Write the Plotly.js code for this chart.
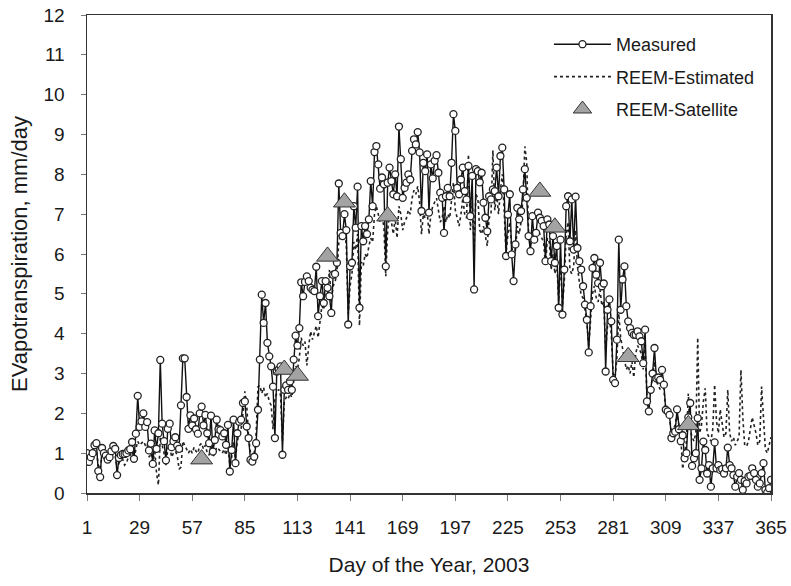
<!DOCTYPE html>
<html>
<head>
<meta charset="utf-8">
<script src="https://cdn.plot.ly/plotly-3.0.1.min.js"></script>
<style>
  html, body { margin: 0; padding: 0; background: #fff; }
  #chart { width: 791px; height: 586px; }
</style>
</head>
<body>
<div id="chart"></div>
<script>
// Tick labels on the day axis
const dayTicks = [1, 29, 57, 85, 113, 141, 169, 197, 225, 253, 281, 309, 337, 365];

// Measured ET, mm/day, day 1..365
const measured = [
  1.0, 0.78, 0.9, 1.0, 1.2, 1.25, 0.55, 0.4, 1.13, 1.0,
  0.94, 0.84, 0.9, 1.05, 1.18, 1.11, 0.45, 0.88, 0.95, 0.98,
  0.98, 1.0, 1.07, 1.1, 1.28, 0.86, 1.49, 2.44, 1.66, 1.8,
  2.0, 1.66, 1.78, 1.07, 1.24, 0.73, 1.57, 1.11, 1.5, 3.34,
  1.74, 1.3, 0.82, 1.61, 1.74, 1.15, 1.3, 1.4, 1.19, 1.11,
  2.2, 3.38, 3.38, 2.41, 1.61, 1.95, 1.7, 1.87, 1.6, 1.49,
  2.0, 2.17, 1.7, 1.96, 1.5, 1.25, 1.94, 1.04, 1.33, 1.84,
  1.6, 1.58, 1.42, 1.5, 1.21, 1.71, 0.54, 1.08, 1.84, 0.75,
  1.5, 1.79, 1.84, 2.26, 2.3, 1.67, 1.38, 0.83, 0.79, 0.91,
  1.25, 2.09, 3.35, 4.98, 4.27, 4.77, 3.77, 3.43, 3.18, 2.67,
  1.38, 3.05, 3.1, 3.18, 0.96, 2.59, 2.7, 2.59, 2.8, 2.59,
  3.35, 3.95, 3.7, 4.14, 5.29, 4.94, 5.3, 5.44, 5.32, 5.15,
  5.1, 5.07, 5.68, 4.44, 4.94, 5.32, 4.77, 5.32, 5.15, 4.94,
  4.52, 5.48, 5.5, 5.78, 7.77, 6.53, 6.45, 7.0, 6.6, 4.23,
  5.69, 5.78, 7.2, 6.66, 7.69, 4.65, 6.7, 6.32, 6.7, 6.5,
  6.87, 7.83, 7.2, 8.56, 8.71, 8.25, 7.64, 7.92, 7.75, 5.69,
  7.79, 8.17, 7.83, 7.5, 8.0, 7.45, 9.2, 8.38, 7.41, 7.66,
  7.79, 8.0, 7.87, 8.59, 8.88, 8.75, 9.06, 8.55, 7.08, 8.29,
  8.08, 8.5, 7.04, 8.25, 7.9, 8.34, 8.48, 8.04, 7.54, 7.41,
  6.53, 7.45, 7.66, 7.45, 8.29, 9.51, 9.09, 7.66, 7.5, 7.87,
  8.17, 7.58, 7.37, 8.21, 6.95, 7.96, 5.11, 8.13, 8.08, 7.8,
  8.04, 7.29, 6.91, 6.57, 7.45, 7.37, 7.62, 7.58, 8.17, 7.45,
  8.46, 8.67, 7.62, 5.95, 6.99, 7.5, 5.99, 5.32, 6.24, 7.16,
  6.87, 7.08, 7.62, 8.13, 7.41, 6.45, 6.07, 6.95, 6.36, 6.53,
  7.04, 6.91, 6.83, 6.7, 5.82, 6.87, 6.74, 5.82, 6.45, 5.78,
  6.2, 4.65, 6.36, 4.48, 5.61, 7.2, 7.45, 6.32, 7.37, 6.11,
  7.44, 6.15, 5.82, 5.61, 5.19, 4.73, 4.35, 3.53, 4.69, 5.65,
  5.9, 5.48, 5.27, 5.78, 5.19, 5.26, 3.05, 4.6, 4.86, 4.31,
  2.84, 2.76, 3.85, 6.36, 4.6, 5.36, 5.69, 4.69, 4.31, 4.14,
  4.02, 3.97, 3.97, 4.06, 3.93, 3.81, 3.26, 4.1, 2.3, 2.05,
  2.59, 3.0, 3.64, 2.88, 2.9, 2.84, 3.09, 2.72, 2.09, 2.05,
  1.96, 1.38, 1.5, 1.54, 2.1, 1.6, 1.3, 1.45, 0.87, 1.0,
  1.9, 2.26, 0.68, 0.87, 1.0, 1.88, 0.33, 0.62, 1.29, 1.08,
  0.49, 0.7, 0.16, 0.62, 1.27, 0.62, 0.7, 0.58, 0.6, 0.49,
  0.62, 1.14, 0.7, 0.62, 0.45, 0.16, 0.41, 0.5, 0.33, 0.08,
  0.3, 0.24, 0.41, 0.43, 0.62, 0.5, 0.33, 0.16, 0.24, 0.5,
  0.75, 0.08, 0.01, 0.12, 0.33
];

// REEM-Estimated ET, mm/day, day 1..365
const estimated = [
  0.9, 0.8, 0.85, 0.95, 1.0, 1.05, 0.7, 0.6, 0.95, 0.9,
  0.85, 0.8, 0.8, 0.95, 1.0, 0.95, 0.6, 0.75, 0.8, 0.85,
  0.7, 0.75, 0.9, 0.95, 1.05, 0.8, 1.1, 1.3, 1.2, 1.25,
  1.3, 1.2, 1.25, 0.9, 1.0, 0.7, 1.1, 0.5, 0.2, 1.4,
  1.2, 1.0, 0.7, 1.1, 1.2, 0.9, 1.0, 1.05, 0.95, 0.6,
  0.65, 1.3, 1.2, 1.1, 1.0, 1.1, 1.0, 1.15, 1.05, 1.0,
  1.2, 1.25, 1.1, 1.2, 1.0, 0.95, 1.2, 0.9, 1.0, 1.15,
  1.1, 1.05, 1.0, 1.1, 0.95, 1.2, 0.7, 0.9, 1.3, 0.85,
  1.3, 1.5, 1.6, 2.0, 2.55, 2.2, 1.4, 1.0, 0.9, 1.0,
  1.5, 2.67, 2.7, 2.5, 2.65, 2.4, 2.5, 2.3, 2.2, 1.6,
  2.4, 2.5, 2.6, 2.45, 1.3, 2.3, 2.4, 2.35, 2.5, 2.4,
  2.9, 3.2, 3.1, 3.4, 3.9, 3.7, 3.8, 3.2, 3.7, 4.06,
  3.85, 4.0, 4.2, 3.9, 4.4, 4.7, 4.6, 5.2, 5.0, 5.6,
  4.8, 5.2, 5.3, 5.5, 6.3, 6.5, 6.4, 6.7, 6.2, 4.5,
  5.2, 5.5, 6.3, 6.1, 6.5, 4.2, 5.8, 5.7, 6.0, 5.9,
  6.2, 6.4, 6.3, 7.0, 7.2, 7.0, 6.8, 6.9, 6.7, 5.44,
  6.6, 7.0, 6.8, 6.5, 6.9, 6.4, 7.2, 7.0, 6.6, 6.8,
  6.9, 7.1, 7.0, 7.4, 7.6, 7.5, 7.7, 7.3, 6.5, 7.0,
  6.9, 7.1, 6.5, 7.0, 7.2, 7.3, 7.4, 7.1, 6.8, 6.9,
  7.2, 6.8, 7.0, 6.9, 7.4, 7.8, 7.1, 6.9, 6.7, 7.0,
  7.4, 7.0, 6.9, 8.5, 6.6, 7.3, 6.2, 7.5, 7.4, 6.6,
  6.5, 6.7, 6.4, 6.2, 6.9, 7.0, 8.6, 7.1, 7.5, 7.0,
  7.6, 8.0, 7.1, 6.0, 6.5, 6.8, 6.2, 5.9, 6.1, 6.7,
  6.5, 6.8, 7.4, 8.7, 8.3, 6.5, 6.2, 6.6, 6.3, 6.4,
  6.6, 6.5, 6.4, 6.3, 5.7, 6.4, 6.3, 5.6, 6.0, 5.5,
  5.8, 4.8, 5.9, 4.7, 5.3, 6.5, 6.8, 5.6, 5.5, 5.7,
  6.6, 5.7, 5.3, 4.95, 4.9, 4.6, 4.3, 3.7, 4.4, 5.0,
  5.2, 4.9, 4.8, 5.1, 4.7, 4.8, 3.6, 4.2, 4.4, 4.0,
  3.0, 2.9, 3.4, 4.5, 3.9, 3.6, 3.3, 3.1, 3.2, 3.0,
  3.3, 2.9, 3.5, 3.7, 3.6, 3.5, 3.1, 3.7, 2.4, 2.2,
  2.6, 2.9, 3.3, 2.8, 2.7, 2.6, 2.9, 2.6, 2.1, 2.0,
  1.9, 1.5, 1.6, 1.7, 2.0, 1.7, 1.4, 0.6, 1.0, 1.3,
  2.5, 1.6, 1.4, 1.3, 1.5, 3.9, 1.5, 1.7, 2.3, 2.63,
  1.5, 1.4, 1.3, 1.6, 2.72, 1.8, 1.5, 2.1, 1.7, 1.4,
  1.5, 2.59, 1.5, 1.3, 1.4, 1.2, 1.3, 1.4, 3.09, 1.9,
  1.2, 1.17, 1.3, 1.6, 1.9, 1.7, 1.5, 1.2, 1.3, 2.67,
  1.75, 1.1, 1.0, 1.2, 1.4
];

// REEM-Satellite overpass days and values
const satDays = [62, 106, 113, 129, 138, 161, 242, 250, 289, 321];
const satValues = [0.85, 3.1, 2.95, 5.94, 7.3, 6.95, 7.57, 6.67, 3.42, 1.71];

const days = measured.map((_, i) => i + 1);

const FONT = 'Liberation Sans, Arial, sans-serif';
const INK = '#1a1a1a';

const traces = [
  {
    x: days, y: estimated, type: 'scatter', mode: 'lines',
    name: 'REEM-Estimated', legendrank: 2, legendgroup: 'b',
    line: { color: '#222', width: 1.6, dash: '3px,3px' }
  },
  {
    x: days, y: measured, type: 'scatter', mode: 'lines+markers',
    name: 'Measured', legendrank: 1, legendgroup: 'a',
    line: { color: '#111', width: 1.4 },
    marker: { symbol: 'circle', size: 7, color: '#ffffff', line: { color: '#222', width: 1.3 } }
  },
  {
    x: satDays, y: satValues, type: 'scatter', mode: 'markers',
    name: 'REEM-Satellite', legendrank: 3, legendgroup: 'c',
    marker: { symbol: 'triangle-up', size: 19, color: '#a3a3a3', line: { color: '#333', width: 1 } }
  }
];

const layout = {
  width: 791, height: 586,
  margin: { l: 87, r: 20, t: 15, b: 93 },
  paper_bgcolor: '#fff', plot_bgcolor: '#fff',
  font: { family: FONT, color: INK, size: 19 },
  showlegend: true,
  legend: {
    x: 0.6754, y: 0.977, xanchor: 'left', yanchor: 'top',
    bgcolor: 'rgba(0,0,0,0)', borderwidth: 0,
    font: { family: FONT, size: 18, color: INK },
    tracegroupgap: 6, traceorder: 'grouped', itemwidth: 57
  },
  xaxis: {
    range: [1, 365], tickvals: dayTicks, ticktext: dayTicks.map(String),
    showgrid: false, zeroline: false,
    showline: true, linecolor: '#333', linewidth: 1.5, mirror: true,
    ticks: 'outside', ticklen: 6, tickcolor: '#777', tickwidth: 1,
    ticklabelstandoff: 11,
    tickfont: { family: FONT, size: 19, color: INK },
    title: { text: 'Day of the Year, 2003', font: { family: FONT, size: 21, color: INK }, standoff: 20 }
  },
  yaxis: {
    range: [0, 12], dtick: 1, tick0: 0,
    showgrid: false, zeroline: false,
    showline: true, linecolor: '#333', linewidth: 1.5, mirror: true,
    ticks: 'outside', ticklen: 5, tickcolor: '#777', tickwidth: 1,
    ticklabelstandoff: 12,
    tickfont: { family: FONT, size: 19, color: INK },
    title: { text: 'EVapotranspiration, mm/day', font: { family: FONT, size: 22, color: INK }, standoff: 10 }
  }
};

Plotly.newPlot('chart', traces, layout, { displayModeBar: false, staticPlot: true });
</script>
</body>
</html>
